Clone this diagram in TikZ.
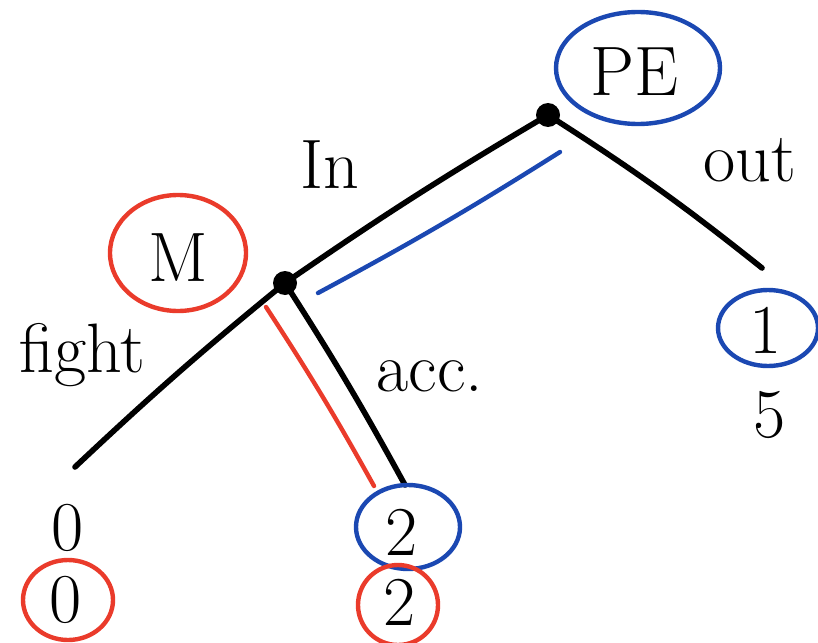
\documentclass[tikz,border=0pt]{standalone}
\usepackage{tikz}
\usetikzlibrary{positioning,shapes.geometric}
\definecolor{penblue}{HTML}{1B48B2}
\definecolor{penred}{HTML}{EA3B2B}
\tikzset{
  branch/.style={line width=2.8pt, line cap=round, black},
  hilite/.style={line width=2.2pt, line cap=round},
  decision/.style={circle, fill=black, inner sep=0pt, minimum size=12pt},
  lbl/.style={font=\fontsize{35}{40}\selectfont, inner sep=0pt},
  ring/.style={ellipse, line width=2.2pt, inner sep=0pt}
}

\begin{document}
\begin{tikzpicture}[x=0.5pt,y=-0.5pt]
\useasboundingbox (0,0) rectangle (818,642);
% Decision nodes
\node[decision] (root) at (548,115) {};
\node[decision] (mono) at (285,283) {};
% Player labels
\node[lbl] (pe) at (634,72) {PE};
\node[ring, draw=penblue, minimum width=82pt, minimum height=56pt] at (638,68) {};
\node[lbl] (mm) at (178,258) {M};
\node[ring, draw=penred, minimum width=68pt, minimum height=58pt] at (178,253) {};
% Leaf ends
\coordinate (outend) at (762,268);
\coordinate (fightend) at (75,467);
\coordinate (accend) at (405,485);
% Branches
\draw[branch] (root.center) to[bend right=2] (mono.center);
\draw[branch] (root.center) to[bend left=3] (outend);
\draw[branch] (mono.center) to[bend right=2] (fightend);
\draw[branch] (mono.center) to[bend left=2] (accend);
% Action labels
\node[lbl] (inlbl) at (330,165) {In};
\node[lbl] (outlbl) at (750,160) {out};
\node[lbl] (fightlbl) at (82,355) {fight};
\node[lbl] (acclbl) at (430,376) {acc.};
% Backward induction marks
\coordinate (bstart) at (318,293);
\coordinate (bend) at (560,152);
\coordinate (rstart) at (266,307);
\coordinate (rend) at (374,486);
\draw[hilite, penblue] (bstart) to[bend right=2] (bend);
\draw[hilite, penred] (rstart) to[bend left=2] (rend);
% Payoffs
\node[lbl] (outpe) at (766,330) {1};
\node[ring, draw=penblue, minimum width=50pt, minimum height=38pt] at (768,328) {};
\node[lbl] (outm) at (770,415) {5};
\node[lbl] (fightpe) at (68,528) {0};
\node[lbl] (fightm) at (66,600) {0};
\node[ring, draw=penred, minimum width=45pt, minimum height=40pt] at (68,600) {};
\node[lbl] (accpe) at (402,532) {2};
\node[ring, draw=penblue, minimum width=52pt, minimum height=42pt] at (408,527) {};
\node[lbl] (accm) at (400,602) {2};
\node[ring, draw=penred, minimum width=40pt, minimum height=40pt] at (398,605) {};
\end{tikzpicture}
\end{document}
